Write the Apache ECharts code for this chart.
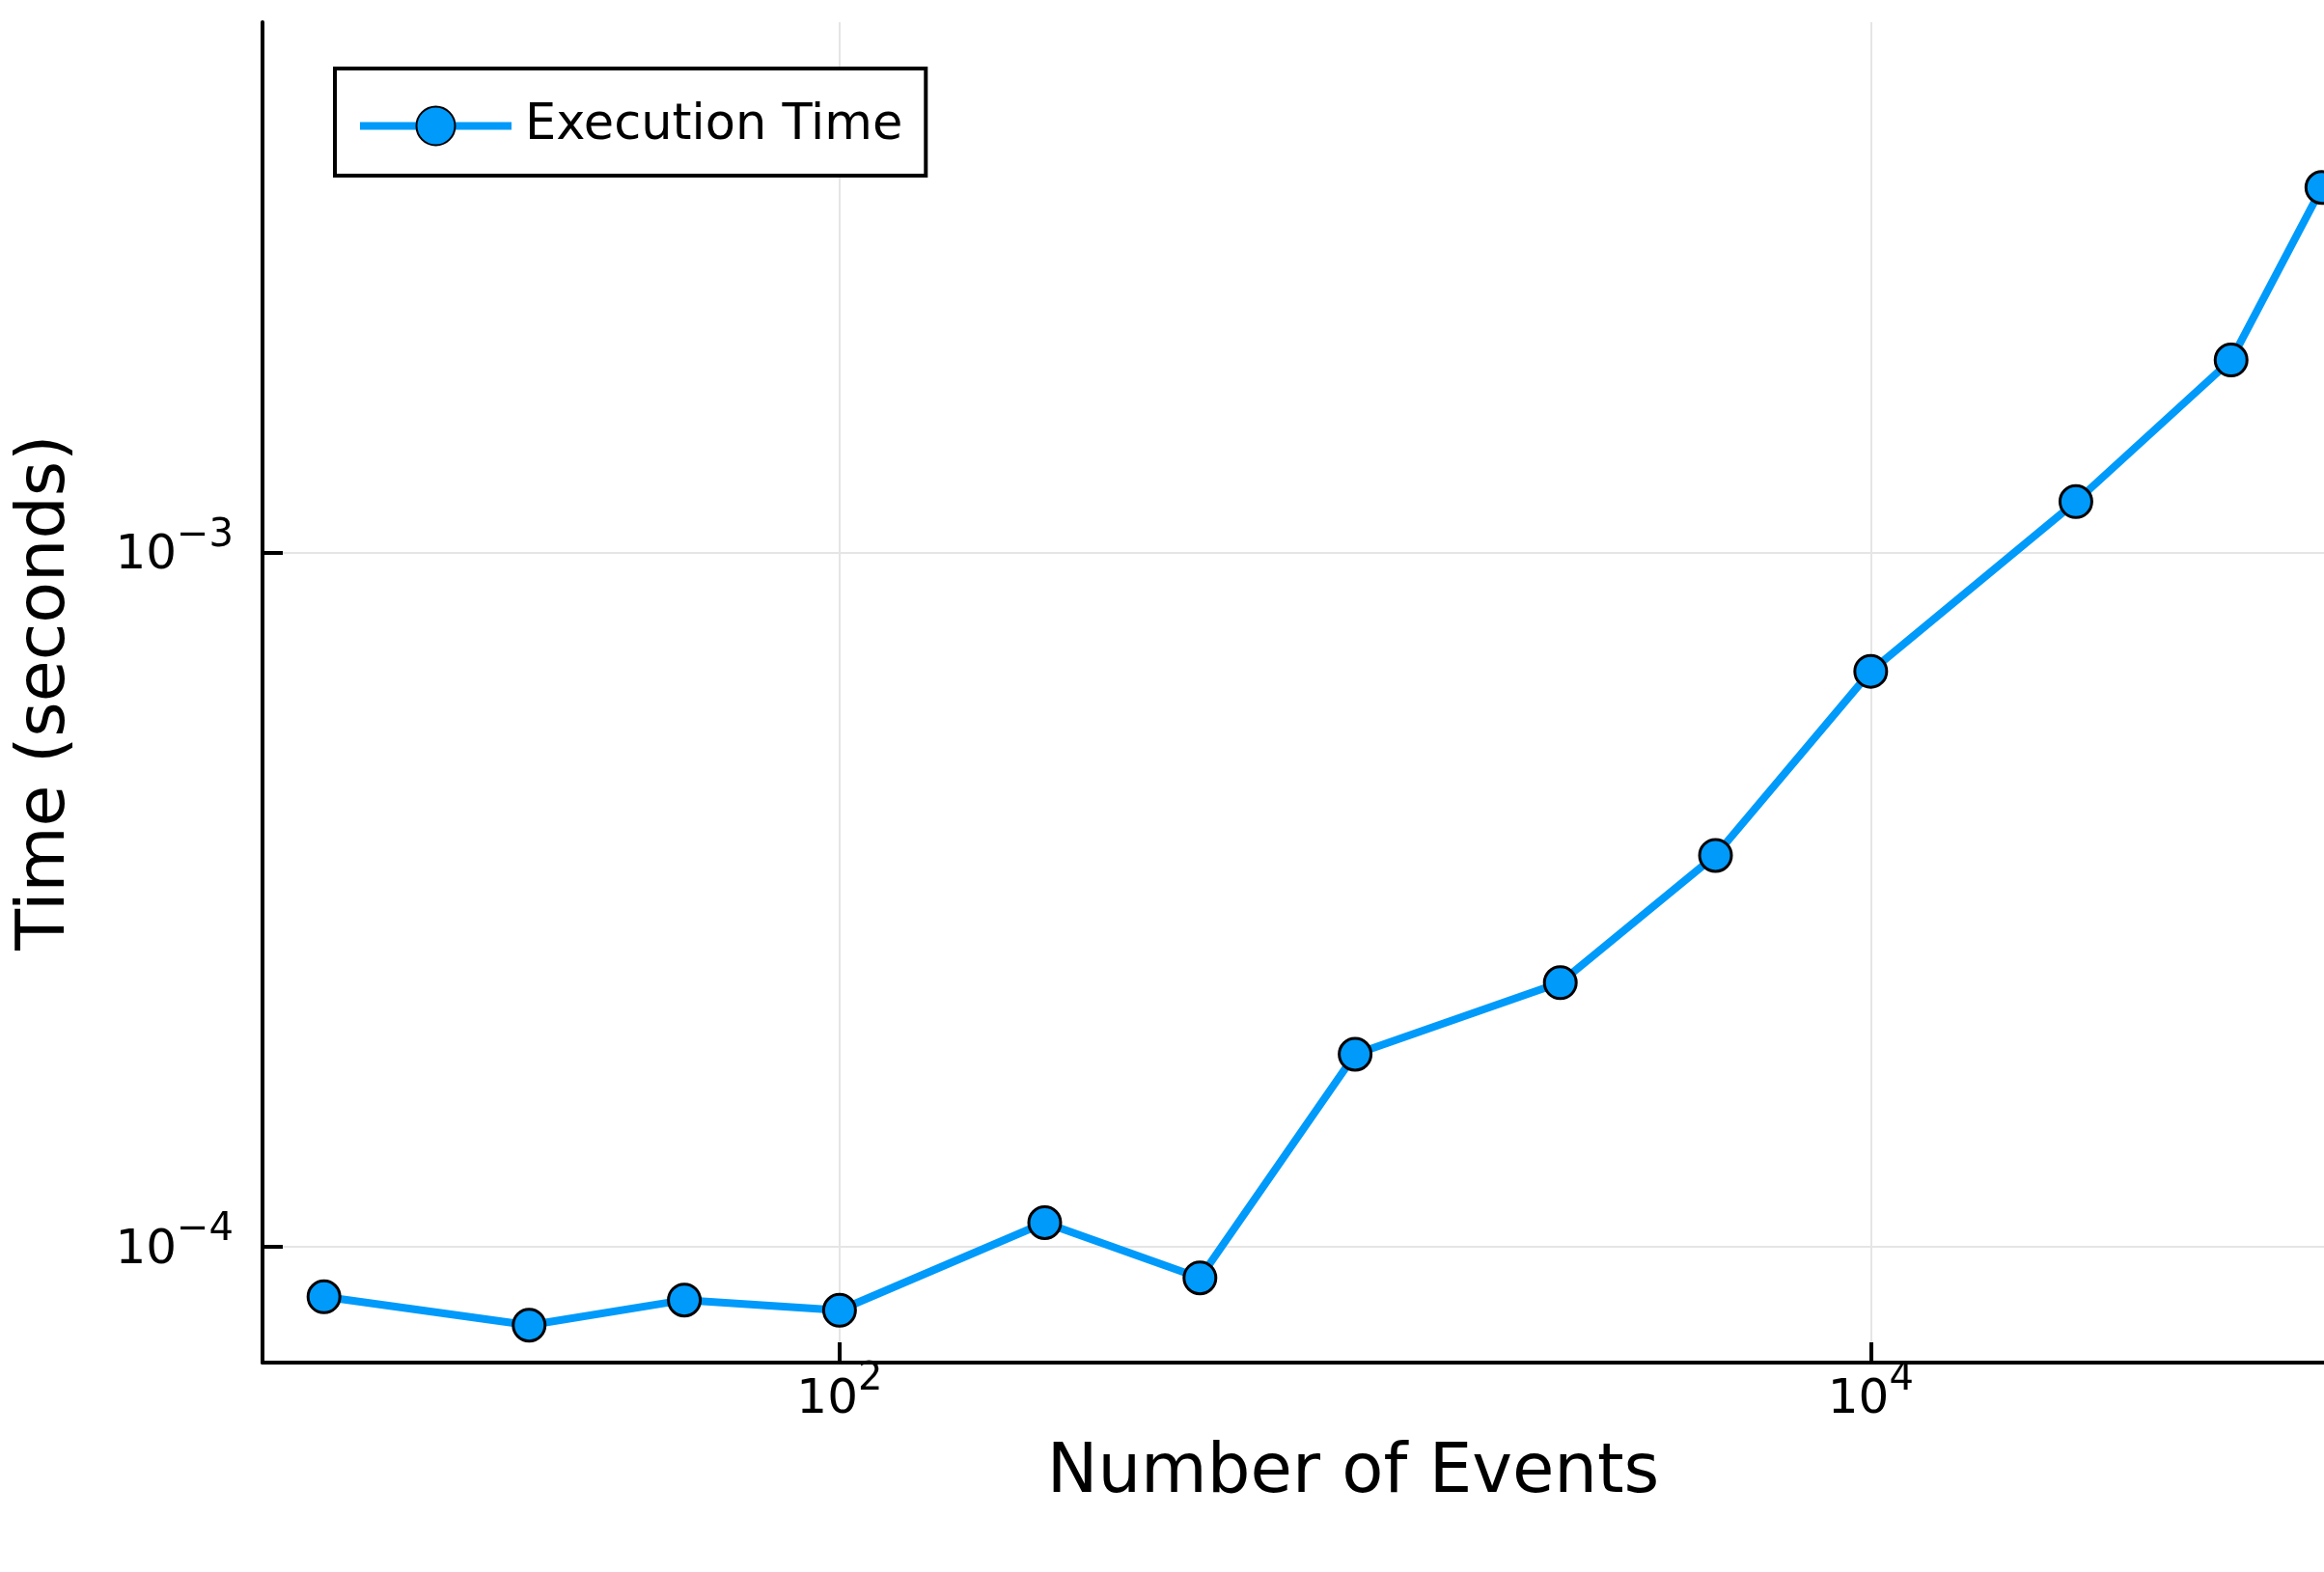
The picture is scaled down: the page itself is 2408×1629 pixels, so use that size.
<!DOCTYPE html>
<html>
<head>
<meta charset="utf-8">
<script src="https://cdn.jsdelivr.net/npm/echarts@6/dist/echarts.min.js"></script>
<style>
  html, body { margin: 0; padding: 0; background: #ffffff; }
  #chart { width: 2408px; height: 1629px; }
</style>
</head>
<body>
<div id="chart"></div>
<script>
// Benchmark: execution time versus number of events (log-log)
const eventCounts = [10, 25, 50, 100, 250, 500, 1000, 2500, 5000, 10000, 25000, 50000, 75000];
const execSeconds = [8.47e-5, 7.71e-5, 8.38e-5, 8.10e-5, 1.083e-4, 9.02e-5, 1.893e-4, 2.40e-4, 3.66e-4, 6.74e-4, 1.183e-3, 1.892e-3, 3.353e-3];
const xTickValues = [100, 10000];
const yTickValues = [1e-4, 1e-3];
const seriesName = 'Execution Time';

const FONT = 'DejaVu Sans';
const LINE_BLUE = '#009AFA';

// "10" with a raised exponent, e.g. 10², 10⁻³
function powerLabel(value) {
  const e = Math.round(Math.log10(value));
  const exp = e < 0 ? '\u2212' + (-e) : String(e);
  return '{b|10}{s|' + exp + '}';
}

const powerRich = {
  b: { fontSize: 50, fontFamily: FONT, color: '#000', lineHeight: 58, verticalAlign: 'bottom' },
  s: { fontSize: 40, fontFamily: FONT, color: '#000', lineHeight: 58, verticalAlign: 'bottom', padding: [0, 0, 26, 0] }
};

const chart = echarts.init(document.getElementById('chart'), null, { renderer: 'canvas' });

chart.setOption({
  animation: false,
  backgroundColor: '#ffffff',
  // the plot area runs past the right edge of the canvas
  grid: { left: 272, top: 23, width: 2260, bottom: 217, containLabel: false, outerBoundsMode: 'none' },
  legend: {
    left: 347,
    top: 71,
    orient: 'vertical',
    selectedMode: false,
    padding: [34, 24, 26, 22],
    borderColor: '#000',
    borderWidth: 4,
    borderRadius: 0,
    backgroundColor: '#ffffff',
    itemWidth: 157,
    itemHeight: 50,
    lineStyle: { color: LINE_BLUE, width: 8 },
    textStyle: { fontSize: 51, fontFamily: FONT, color: '#000', padding: [0, 0, 0, 9] },
    data: [seriesName]
  },
  xAxis: {
    type: 'log',
    logBase: 10,
    min: 7.6,
    max: 129200,
    name: 'Number of Events',
    nameLocation: 'middle',
    nameGap: 80,
    nameTextStyle: { fontSize: 70.5, fontFamily: FONT, color: '#000' },
    axisLine: { show: true, onZero: false, lineStyle: { color: '#000', width: 4 } },
    axisTick: { show: true, inside: true, length: 21, lineStyle: { color: '#000', width: 4 }, customValues: xTickValues },
    axisLabel: { customValues: xTickValues, margin: 6, formatter: powerLabel, rich: powerRich },
    splitLine: { show: true, lineStyle: { color: '#e5e5e5', width: 2 } },
    minorTick: { show: false },
    minorSplitLine: { show: false }
  },
  yAxis: {
    type: 'log',
    logBase: 10,
    min: 6.81e-5,
    max: 5.80e-3,
    name: 'Time (seconds)',
    nameLocation: 'middle',
    nameGap: 189,
    nameTextStyle: { fontSize: 70, fontFamily: FONT, color: '#000' },
    axisLine: { show: true, onZero: false, lineStyle: { color: '#000', width: 4 } },
    axisTick: { show: true, inside: true, length: 21, lineStyle: { color: '#000', width: 4 }, customValues: yTickValues },
    axisLabel: { customValues: yTickValues, margin: 30, formatter: powerLabel, rich: powerRich },
    splitLine: { show: true, lineStyle: { color: '#e5e5e5', width: 2 } },
    minorTick: { show: false },
    minorSplitLine: { show: false }
  },
  series: [{
    type: 'line',
    name: seriesName,
    data: eventCounts.map((n, i) => [n, execSeconds[i]]),
    symbol: 'circle',
    symbolSize: 33,
    showSymbol: true,
    lineStyle: { color: LINE_BLUE, width: 8 },
    itemStyle: { color: LINE_BLUE, borderColor: '#000', borderWidth: 3 },
    emphasis: { disabled: true },
    z: 3
  }]
});
</script>
</body>
</html>
